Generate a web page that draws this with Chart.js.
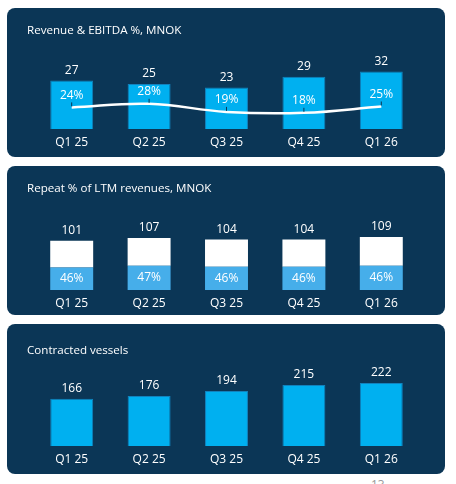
<!DOCTYPE html>
<html>
<head>
<meta charset="utf-8">
<script src="https://cdn.jsdelivr.net/npm/chart.js@4.4.1/dist/chart.umd.min.js"></script>
<style>
    html, body { margin: 0; padding: 0; background: #ffffff; }
    body { width: 456px; height: 484px; position: relative; overflow: hidden; font-family: 'Open Sans', sans-serif; }
    .panel { position: absolute; left: 7px; width: 438px; background: #0b3656; border-radius: 8px; overflow: hidden; }
    .panel canvas { position: absolute; left: 0; top: 0; }
    .title { position: absolute; left: 20px; color: #ffffff; font-size: 11.6px; white-space: nowrap; }
    .page-no { position: absolute; left: 371px; top: 476px; color: #9a9a9a; font-size: 12px; }
</style>
</head>
<body>
<div class="panel" style="top:8px;height:149px">
    <canvas id="revenue-chart" width="438" height="149"></canvas>
    <div class="title" style="top:14px">Revenue &amp; EBITDA %, MNOK</div>
</div>
<div class="panel" style="top:166px;height:149px">
    <canvas id="repeat-chart" width="438" height="149"></canvas>
    <div class="title" style="top:14px">Repeat % of LTM revenues, MNOK</div>
</div>
<div class="panel" style="top:324px;height:150px">
    <canvas id="vessels-chart" width="438" height="150"></canvas>
    <div class="title" style="top:18px">Contracted vessels</div>
</div>
<div class="page-no">13</div>

<script>
const quarters = ['Q1 25', 'Q2 25', 'Q3 25', 'Q4 25', 'Q1 26'];

// Revenue & EBITDA %
const revenue = [27, 25, 23, 29, 32];
const ebitdaPct = [24, 28, 19, 18, 25];

// Repeat share of LTM revenues (stack parts add up to the totals)
const repeatTotal = [101, 107, 104, 104, 109];
const repeatPart = [46, 50, 48, 48, 50];
const otherPart = [55, 57, 56, 56, 59];
const repeatPct = [46, 47, 46, 46, 46];

// Contracted vessels
const vessels = [166, 176, 194, 215, 222];

const BAR_BLUE = '#00b0f0';
const BAR_EDGE = '#1282bd';
const LIGHT_BLUE = '#46aeea';
const NAVY = '#0b3656';
const FONT = { family: "'Open Sans', sans-serif", size: 12 };

Chart.defaults.font.family = FONT.family;
Chart.defaults.color = '#ffffff';

function baseOptions(yMax, axisHeight, padTop) {
    return {
        responsive: false,
        animation: false,
        layout: { padding: { left: 26, right: 25, top: padTop, bottom: 0 } },
        plugins: { legend: { display: false }, tooltip: { enabled: false } },
        scales: {
            x: {
                stacked: true,
                grid: { display: false, drawTicks: false },
                border: { display: false },
                ticks: { color: '#ffffff', font: FONT, padding: 6 },
                afterFit: scale => { scale.height = axisHeight; }
            },
            y: { display: false, stacked: true, min: 0, max: yMax }
        }
    };
}

function drawText(ctx, text, x, y) {
    ctx.fillText(text, x, y);
}

function labelCtx(ctx) {
    ctx.save();
    ctx.font = `${FONT.size}px ${FONT.family}`;
    ctx.fillStyle = '#ffffff';
    ctx.textAlign = 'center';
    ctx.textBaseline = 'middle';
}

// Revenue bars with EBITDA % line
const revenueOptions = baseOptions(40, 28, 49);
revenueOptions.scales.y2 = { display: false, min: 0, max: 80 };

new Chart(document.getElementById('revenue-chart').getContext('2d'), {
    type: 'bar',
    data: {
        labels: quarters,
        datasets: [{
            type: 'line',
            data: ebitdaPct,
            yAxisID: 'y2',
            borderColor: '#ffffff',
            borderWidth: 2.5,
            pointRadius: 0,
            tension: 0.4,
            order: 0
        }, {
            data: revenue,
            backgroundColor: BAR_BLUE,
            borderColor: BAR_EDGE,
            borderWidth: 1,
            barPercentage: 0.555,
            categoryPercentage: 1,
            order: 1
        }]
    },
    options: revenueOptions,
    plugins: [{
        id: 'revenueLabels',
        afterDatasetsDraw(chart) {
            const ctx = chart.ctx;
            const line = chart.getDatasetMeta(0).data;
            const bars = chart.getDatasetMeta(1).data;
            labelCtx(ctx);
            bars.forEach((bar, i) => drawText(ctx, String(revenue[i]), bar.x, bar.y - 10));
            line.forEach((pt, i) => {
                ctx.strokeStyle = NAVY;
                ctx.lineWidth = 1;
                ctx.beginPath();
                ctx.moveTo(pt.x, pt.y - 5);
                ctx.lineTo(pt.x, pt.y - 1);
                ctx.stroke();
                drawText(ctx, ebitdaPct[i] + '%', pt.x, pt.y - 12);
            });
            ctx.restore();
        }
    }]
});

// Repeat % of LTM revenues
new Chart(document.getElementById('repeat-chart').getContext('2d'), {
    type: 'bar',
    data: {
        labels: quarters,
        datasets: [{
            data: repeatPart,
            backgroundColor: LIGHT_BLUE,
            borderWidth: 0,
            barPercentage: 0.555,
            categoryPercentage: 1
        }, {
            data: otherPart,
            backgroundColor: '#ffffff',
            borderWidth: 0,
            barPercentage: 0.555,
            categoryPercentage: 1
        }]
    },
    options: baseOptions(150, 25, 51),
    plugins: [{
        id: 'repeatLabels',
        afterDatasetsDraw(chart) {
            const ctx = chart.ctx;
            const low = chart.getDatasetMeta(0).data;
            const top = chart.getDatasetMeta(1).data;
            labelCtx(ctx);
            top.forEach((bar, i) => drawText(ctx, String(repeatTotal[i]), bar.x, bar.y - 10));
            low.forEach((bar, i) => drawText(ctx, repeatPct[i] + '%', bar.x, (bar.y + bar.base) / 2));
            ctx.restore();
        }
    }]
});

// Contracted vessels
new Chart(document.getElementById('vessels-chart').getContext('2d'), {
    type: 'bar',
    data: {
        labels: quarters,
        datasets: [{
            data: vessels,
            backgroundColor: BAR_BLUE,
            borderColor: BAR_EDGE,
            borderWidth: 1,
            barPercentage: 0.555,
            categoryPercentage: 1
        }]
    },
    options: baseOptions(250, 28, 51),
    plugins: [{
        id: 'vesselLabels',
        afterDatasetsDraw(chart) {
            const ctx = chart.ctx;
            labelCtx(ctx);
            chart.getDatasetMeta(0).data.forEach((bar, i) => drawText(ctx, String(vessels[i]), bar.x, bar.y - 10));
            ctx.restore();
        }
    }]
});
</script>
</body>
</html>
